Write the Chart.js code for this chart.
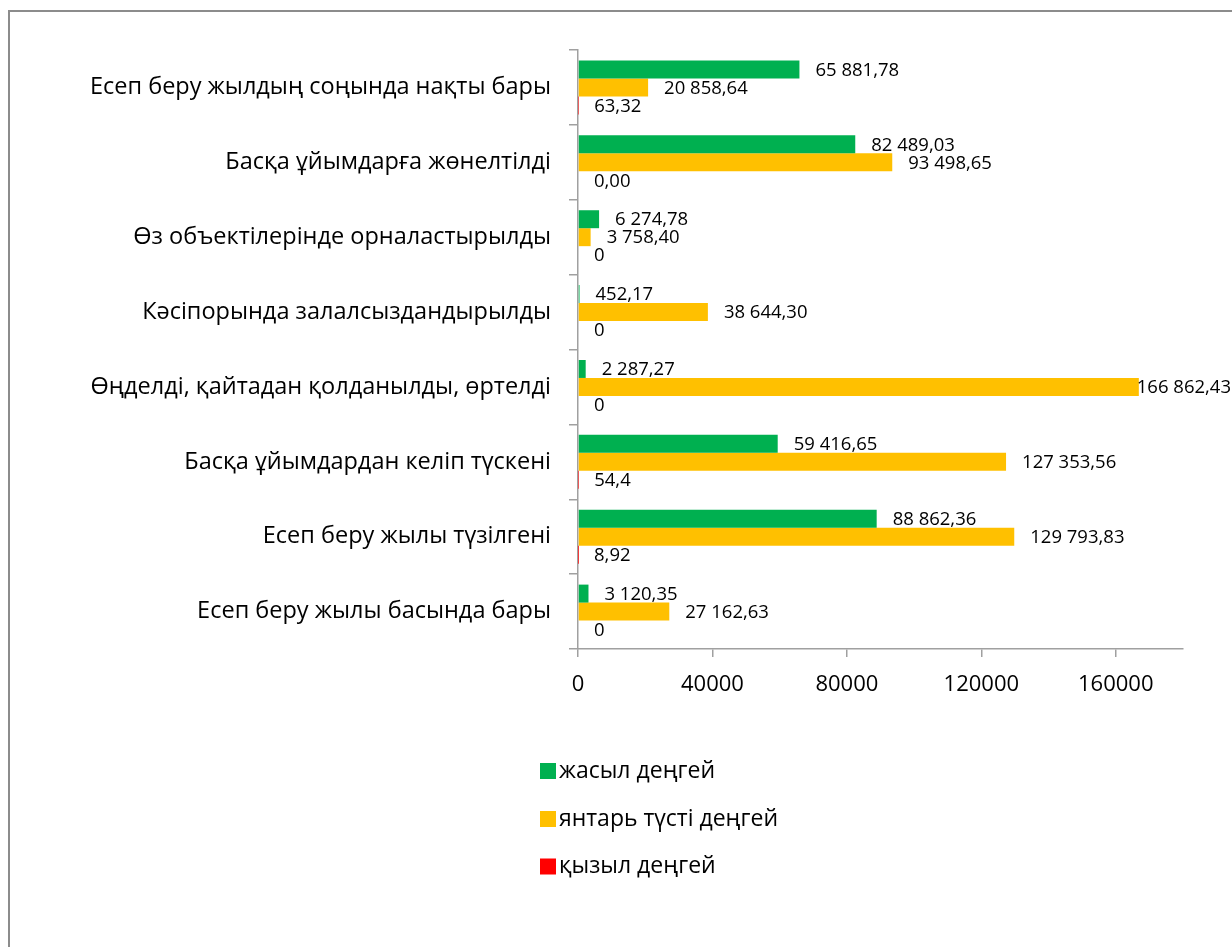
<!DOCTYPE html>
<html>
<head>
<meta charset="utf-8">
<script src="https://cdn.jsdelivr.net/npm/chart.js@4/dist/chart.umd.min.js"></script>
<style>
html,body{margin:0;padding:0;background:#fff;}
canvas{display:block;}
</style>
</head>
<body>
<canvas id="c" width="1232" height="947"></canvas>
<script>
// Categories (top to bottom as shown)
const categories = [
  'Есеп беру жылдың соңында нақты бары',
  'Басқа ұйымдарға жөнелтілді',
  'Өз объектілерінде орналастырылды',
  'Кәсіпорында залалсыздандырылды',
  'Өңделді, қайтадан қолданылды, өртелді',
  'Басқа ұйымдардан келіп түскені',
  'Есеп беру жылы түзілгені',
  'Есеп беру жылы басында бары'
];
const seriesNames = ['жасыл деңгей', 'янтарь түсті деңгей', 'қызыл деңгей'];
const greenValues = [65881.78, 82489.03, 6274.78, 452.17, 2287.27, 59416.65, 88862.36, 3120.35];
const amberValues = [20858.64, 93498.65, 3758.40, 38644.30, 166862.43, 127353.56, 129793.83, 27162.63];
const redValues   = [63.32, 0.00, 0, 0, 0, 54.4, 8.92, 0];
const greenLabels = ['65 881,78', '82 489,03', '6 274,78', '452,17', '2 287,27', '59 416,65', '88 862,36', '3 120,35'];
const amberLabels = ['20 858,64', '93 498,65', '3 758,40', '38 644,30', '166 862,43', '127 353,56', '129 793,83', '27 162,63'];
const redLabels   = ['63,32', '0,00', '0', '0', '0', '54,4', '8,92', '0'];
const xTicks = [0, 40000, 80000, 120000, 160000];
const xMax = 180000;

const colors = ['#00B050', '#FFC000', '#FF0000'];
const axisColor = '#A0A0A0';
const FONT = "'Open Sans', sans-serif";

const frame = {
  id: 'frame',
  beforeDraw(chart) {
    const ctx = chart.ctx;
    ctx.save();
    ctx.fillStyle = '#fff';
    ctx.fillRect(0, 0, chart.width, chart.height);
    ctx.strokeStyle = '#8C8C8C';
    ctx.lineWidth = 2;
    ctx.strokeRect(9, 11, 1400, 1100);
    ctx.restore();
  }
};

const valueLabels = {
  id: 'valueLabels',
  afterDatasetsDraw(chart) {
    const ctx = chart.ctx;
    const allLabels = [greenLabels, amberLabels, redLabels];
    ctx.save();
    ctx.font = "18.5px " + FONT;
    ctx.fillStyle = '#000';
    ctx.textBaseline = 'middle';
    ctx.textAlign = 'left';
    chart.data.datasets.forEach((ds, i) => {
      const meta = chart.getDatasetMeta(i);
      meta.data.forEach((el, j) => {
        const txt = allLabels[i][j];
        const w = ctx.measureText(txt).width;
        let x = el.x + 16;
        if (x + w > chart.width - 1) x = chart.width - 1 - w;
        ctx.fillText(txt, x, el.y + 1);
      });
    });
    ctx.restore();
  }
};

const customLegend = {
  id: 'customLegend',
  afterDraw(chart) {
    const ctx = chart.ctx;
    ctx.save();
    ctx.font = "23px " + FONT;
    ctx.textBaseline = 'middle';
    ctx.textAlign = 'left';
    const rows = [771, 819, 866.5];
    chart.data.datasets.forEach((ds, i) => {
      const cy = rows[i];
      ctx.fillStyle = ds.backgroundColor;
      ctx.fillRect(540, cy - 8, 16, 16);
      ctx.fillStyle = '#000';
      ctx.fillText(ds.label, 559, cy);
    });
    ctx.restore();
  }
};

new Chart(document.getElementById('c'), {
  type: 'bar',
  data: {
    labels: categories,
    datasets: [
      { label: seriesNames[0], data: greenValues, backgroundColor: colors[0] },
      { label: seriesNames[1], data: amberValues, backgroundColor: colors[1] },
      { label: seriesNames[2], data: redValues, backgroundColor: colors[2] }
    ]
  },
  options: {
    indexAxis: 'y',
    responsive: false,
    animation: false,
    events: [],
    layout: { padding: { left: 0, top: 50, right: 49, bottom: 0 } },
    datasets: { bar: { categoryPercentage: 0.72, barPercentage: 1.0, borderWidth: 0 } },
    plugins: { legend: { display: false }, tooltip: { enabled: false } },
    scales: {
      x: {
        type: 'linear',
        min: 0,
        max: xMax,
        afterBuildTicks(scale) { scale.ticks = xTicks.map(v => ({ value: v })); },
        afterFit(scale) { scale.height = 298; },
        ticks: {
          font: { family: FONT, size: 22 },
          color: '#000',
          padding: 15,
          maxRotation: 0,
          callback: v => String(v)
        },
        grid: { drawOnChartArea: false, color: axisColor, tickLength: 8, lineWidth: 1.5 },
        border: { color: axisColor, width: 1.5 }
      },
      y: {
        afterFit(scale) { scale.width = 578; },
        ticks: {
          font: { family: FONT, size: 23.5 },
          color: '#000',
          padding: 18
        },
        grid: { drawOnChartArea: false, color: axisColor, tickLength: 9, offset: true, lineWidth: 1.5 },
        border: { color: axisColor, width: 1.5 }
      }
    }
  },
  plugins: [frame, valueLabels, customLegend]
});
</script>
</body>
</html>
